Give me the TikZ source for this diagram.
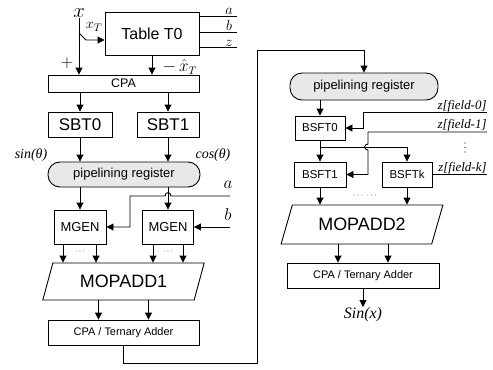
\documentclass[tikz,border=0pt]{standalone}
\usepackage{fontspec}
\setmainfont{Liberation Serif}
\setsansfont{Liberation Sans}
\usetikzlibrary{shapes.geometric,arrows.meta,calc}
\newcommand\setfs[1]{\fontsize{#1}{#1}\selectfont}
\tikzset{
  box/.style={draw, rectangle, inner sep=0pt, font=\sffamily\setfs{#1}},
  regbox/.style={draw, rectangle, rounded corners=12bp, fill=black!9, inner sep=0pt, font=\sffamily\setfs{13}},
  para/.style={draw, trapezium, trapezium left angle=#1, trapezium right angle=180-#1,
     trapezium stretches=true, inner sep=0pt, font=\sffamily\setfs{18}},
  arr/.style={-{Triangle[length=7bp,width=7bp]}},
  lab/.style={inner sep=0pt, font=\setfs{#1}},
  ilab/.style={inner sep=0pt, font=\itshape\setfs{#1}},
  dotmark/.style={circle, fill, inner sep=0pt, minimum size=1.3bp},
}
\begin{document}
\begin{tikzpicture}[x=1bp,y=-1bp,line width=0.9bp]
\useasboundingbox (0,0) rectangle (493,369);
% left column
\node[lab=22] (xl) at (79,13.5) {$x$};
\node[box=16, minimum width=94bp, minimum height=43bp] (t0) at (152,33.5) {Table T0};
\node[box=12.5, minimum width=151bp, minimum height=17bp] (cpa) at (123.5,83.5) {CPA};
\node[box=17, minimum width=64bp, minimum height=25bp] (sbt0) at (80,124.5) {SBT0};
\node[box=17, minimum width=62bp, minimum height=25bp] (sbt1) at (168,124.5) {SBT1};
\node[regbox, minimum width=152bp, minimum height=25bp] (reg1) at (124,174.5) {pipelining register};
\node[box=13, minimum width=52bp, minimum height=34bp] (mg0) at (80,227) {MGEN};
\node[box=13, minimum width=51bp, minimum height=34bp] (mg1) at (168,227) {MGEN};
\node[para=64, minimum width=163bp, minimum height=37bp] (mop1) at (123.5,281.5) {MOPADD1};
\node[box=11, minimum width=151bp, minimum height=25bp] (add1) at (123.5,332.5) {CPA / Ternary Adder};
% right column
\node[regbox, minimum width=148bp, minimum height=27bp] (reg2) at (364,86.5) {pipelining register};
\node[box=11.5, minimum width=50bp, minimum height=24bp] (bs0) at (320,128) {BSFT0};
\node[box=11.5, minimum width=52bp, minimum height=25bp] (bs1) at (320,174.5) {BSFT1};
\node[box=11.5, minimum width=50bp, minimum height=25bp] (bsk) at (407,174.5) {BSFTk};
\node[para=61, minimum width=162bp, minimum height=39bp] (mop2) at (362,224.5) {MOPADD2};
\node[box=11, minimum width=152bp, minimum height=25bp] (add2) at (363,275.5) {CPA / Ternary Adder};
\node[ilab=16, anchor=north] (sinx) at (363,307) {Sin(x)};

% labels
\node[lab=15] (xt) at (94,27) {$x_T$};
\node[lab=15] (la) at (229,11) {$a$};
\node[lab=15] (lb) at (229,25.5) {$b$};
\node[lab=15] (lz) at (229,43) {$z$};
\node[lab=16] (plus) at (67,63) {$+$};
\node[lab=16] (mx) at (180,67) {$-\,\hat{x}_T$};
\node[ilab=14] (sinl) at (31,155) {sin(θ)};
\node[ilab=14] (cosl) at (213,155) {cos(θ)};
\node[lab=16] (la2) at (228,185) {$a$};
\node[lab=16] (lb2) at (228,215) {$b$};
\node[ilab=13, anchor=base east] (zf0) at (487,109) {z[field-0]};
\node[ilab=13, anchor=base east] (zf1) at (487,128) {z[field-1]};
\node[ilab=13, anchor=base east] (zfk) at (487,171) {z[field-k]};
\node[lab=8] (d1) at (80,252) {$\cdots$};
\node[lab=8] (d2) at (168,252) {$\cdots$};
\node[lab=8] (d3) at (365,196) {$\cdots\;\cdots$};
% vertical dots
\node[dotmark] (vd1) at (465,143) {};
\node[dotmark] (vd2) at (465,147.5) {};
\node[dotmark] (vd3) at (465,152) {};

% coordinates for free ends and offsets
\coordinate (br) at (79,33);
\coordinate (ain) at (230,196);
\coordinate (bin) at (230,227);
\coordinate (z0in) at (487,112);
\coordinate (z1in) at (487,132);
\coordinate (zkin) at (487,174.5);
\coordinate (m0a) at ($(mg0.south)+(-17,0)$);
\coordinate (m0b) at ($(mg0.south)+(16,0)$);
\coordinate (m1a) at ($(mg1.south)+(-15,0)$);
\coordinate (m1b) at ($(mg1.south)+(15,0)$);
\coordinate (a1a) at ($(add1.north)+(-25,0)$);
\coordinate (a1b) at ($(add1.north)+(25,0)$);
\coordinate (a2a) at ($(add2.north)+(-25,0)$);
\coordinate (a2b) at ($(add2.north)+(25,0)$);
\coordinate (bsbr) at ($(bs0.south)+(0,7)$);

% left column connectors
\draw[arr] (xl.south) -- (xl.south |- cpa.north);
\draw[arr] (br) -- ++(7,7) -- ($(t0.west)+(0,6.5)$);
\draw ($(t0.north east)+(0,5)$) -- ++(38,0);
\draw ($(t0.north east)+(0,21)$) -- ++(38,0);
\draw ($(t0.north east)+(0,36)$) -- ++(38,0);
\draw[arr] (t0.south) -- (t0.south |- cpa.north);
\draw[arr] (sbt0.north |- cpa.south) -- (sbt0.north);
\draw[arr] (sbt1.north |- cpa.south) -- (sbt1.north);
\draw[arr] (sbt0.south) -- (sbt0.south |- reg1.north);
\draw[arr] (sbt1.south) -- (sbt1.south |- reg1.north);
\draw[arr] (mg0.north |- reg1.south) -- (mg0.north);
\draw[arr] (mg1.north |- reg1.south) -- (mg1.north);
\draw[arr] (ain) -- (171,196) .. controls (171,191.5) and (165,191.5) .. (165,196) -- (130,196) |- (mg0.east);
\draw[arr] (bin) -- (mg1.east);
\foreach \c in {m0a,m0b,m1a,m1b}{
  \draw[arr] (\c) -- (\c |- mop1.north);
}
\draw[arr] (a1a |- mop1.south) -- (a1a);
\draw[arr] (a1b |- mop1.south) -- (a1b);
\draw[arr] (add1.south) |- (257,363) -- (257,50) -| (reg2.north);

% right column connectors
\draw[arr] (bs0.north |- reg2.south) -- (bs0.north);
\draw[arr] (bs0.south) -- (bs1.north);
\draw[arr] (bsbr) -| (bsk.north);
\draw[arr] (z0in) -- (363,112) |- (bs0.east);
\draw[arr] (z1in) -- (368,132) -- (368,144) .. controls (363.5,144) and (363.5,150) .. (368,150) |- (bs1.east);
\draw (bsk.east) -- (zkin);
\draw[arr] (bs1.south) -- (bs1.south |- mop2.north);
\draw[arr] (bsk.south) -- (bsk.south |- mop2.north);
\draw[arr] (a2a |- mop2.south) -- (a2a);
\draw[arr] (a2b |- mop2.south) -- (a2b);
\draw[arr] (add2.south) -- (sinx.north);
\end{tikzpicture}
\end{document}
